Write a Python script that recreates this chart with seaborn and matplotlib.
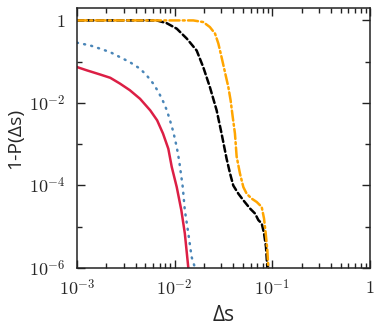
import numpy as np
import pandas as pd
import matplotlib
matplotlib.use("Agg")
import matplotlib.pyplot as plt
import matplotlib.ticker as mticker
import seaborn as sns

# ------------------------------------------------------------
# 데이터
# ------------------------------------------------------------
red_x = [1.00e-3, 1.26e-3, 1.72e-3, 2.19e-3, 2.75e-3, 3.47e-3, 4.42e-3, 5.62e-3,
         6.61e-3, 7.59e-3, 8.61e-3, 9.33e-3, 1.05e-2, 1.17e-2, 1.27e-2, 1.38e-2]
red_y = [7.41e-2, 6.17e-2, 4.90e-2, 4.07e-2, 2.95e-2, 2.04e-2, 1.26e-2, 6.61e-3,
         3.80e-3, 1.82e-3, 7.76e-4, 2.82e-4, 9.12e-5, 2.51e-5, 6.92e-6, 1.00e-6]

blue_x = [1.00e-3, 1.36e-3, 1.72e-3, 2.19e-3, 2.75e-3, 3.47e-3, 4.42e-3, 5.16e-3,
          6.03e-3, 6.84e-3, 7.67e-3, 8.32e-3, 8.95e-3, 9.68e-3, 1.05e-2, 1.11e-2,
          1.21e-2, 1.27e-2, 1.38e-2, 1.49e-2, 1.62e-2]
blue_y = [2.88e-1, 2.48e-1, 2.07e-1, 1.70e-1, 1.29e-1, 9.77e-2, 6.76e-2, 4.68e-2,
          2.95e-2, 1.82e-2, 1.05e-2, 6.61e-3, 3.80e-3, 2.00e-3, 8.51e-4, 4.07e-4,
          9.12e-5, 2.51e-5, 6.92e-6, 1.86e-6, 9.80e-7]

black_x = [1.00e-3, 6.53e-3, 8.26e-3, 1.05e-2, 1.33e-2, 1.68e-2, 1.96e-2, 2.29e-2,
           2.69e-2, 3.02e-2, 3.40e-2, 3.69e-2, 3.98e-2, 4.49e-2, 5.05e-2, 5.92e-2,
           6.65e-2, 7.19e-2, 7.78e-2, 8.22e-2, 8.61e-2, 8.89e-2]
black_y = [1.0, 1.0, 0.861, 0.631, 0.363, 0.186, 7.41e-2, 2.45e-2,
           6.61e-3, 1.82e-3, 4.47e-4, 1.95e-4, 1.00e-4, 6.31e-5, 4.37e-5, 2.75e-5,
           2.09e-5, 1.45e-5, 1.20e-5, 6.92e-6, 3.24e-6, 9.80e-7]

orange_x = [1.00e-3, 1.55e-2, 1.96e-2, 2.29e-2, 2.59e-2, 2.80e-2, 3.02e-2, 3.27e-2,
            3.54e-2, 3.74e-2, 3.93e-2, 4.14e-2, 4.31e-2, 4.66e-2, 5.05e-2, 5.46e-2,
            6.15e-2, 6.92e-2, 7.78e-2, 8.22e-2, 8.55e-2, 8.89e-2, 9.10e-2]
orange_y = [1.0, 1.0, 0.912, 0.692, 0.479, 0.275, 0.129, 5.62e-2,
            2.45e-2, 1.15e-2, 4.57e-3, 1.82e-3, 5.01e-4, 1.95e-4, 9.12e-5, 6.31e-5,
            4.79e-5, 3.98e-5, 3.02e-5, 1.58e-5, 6.92e-6, 2.69e-6, 9.80e-7]

x_ticks = [1e-3, 1e-2, 1e-1, 1]
x_ticklabels = ["$10^{-3}$", "$10^{-2}$", "$10^{-1}$", "$1$"]
y_ticks = [1e-6, 1e-4, 1e-2, 1]
y_ticklabels = ["$10^{-6}$", "$10^{-4}$", "$10^{-2}$", "$1$"]

# long-form 테이블
frames = []
for name, xs, ys in [("red", red_x, red_y), ("blue", blue_x, blue_y),
                     ("black", black_x, black_y), ("orange", orange_x, orange_y)]:
    frames.append(pd.DataFrame({"ds": xs, "p": ys, "series": name}))
df = pd.concat(frames, ignore_index=True)

# ------------------------------------------------------------
# 그리기
# ------------------------------------------------------------
sns.set_style("ticks")
plt.rcParams["font.family"] = ["Open Sans", "DejaVu Sans"]
plt.rcParams["mathtext.fontset"] = "cm"

fig = plt.figure(figsize=(3.82, 3.29), dpi=100)
ax = fig.add_axes([0.2016, 0.1854, 0.9686 - 0.2016, 0.9757 - 0.1854])

palette = {"red": "#dc1f45", "blue": "#4a86b8", "black": "black", "orange": "#ffa500"}
dashes = {"red": "", "blue": (0.4, 2.5), "black": (2.6, 1.4), "orange": (4.0, 1.3, 0.8, 1.3)}

sns.lineplot(data=df, x="ds", y="p", hue="series", style="series",
             palette=palette, dashes=dashes, linewidth=1.8, legend=False,
             sort=False, estimator=None, ax=ax)

for line in ax.lines:
    line.set_dash_capstyle("round")

ax.set_xscale("log")
ax.set_yscale("log")
ax.set_xlim(1e-3, 1)
ax.set_ylim(1e-6, 2.0)

ax.xaxis.set_major_locator(mticker.FixedLocator(x_ticks))
ax.xaxis.set_major_formatter(mticker.FixedFormatter(x_ticklabels))
ax.xaxis.set_minor_locator(mticker.LogLocator(base=10, subs=np.arange(2, 10), numticks=20))
ax.xaxis.set_minor_formatter(mticker.NullFormatter())

ax.yaxis.set_major_locator(mticker.FixedLocator(y_ticks))
ax.yaxis.set_major_formatter(mticker.FixedFormatter(y_ticklabels))
ax.yaxis.set_minor_locator(mticker.FixedLocator([1e-5, 1e-3, 1e-1]))
ax.yaxis.set_minor_formatter(mticker.NullFormatter())

ax.tick_params(which="both", direction="in", top=True, right=True, width=1.0, color="#222222")
ax.tick_params(which="major", length=6, labelsize=13, pad=8)
ax.tick_params(which="minor", length=3.5)
for sp in ax.spines.values():
    sp.set_linewidth(1.1)
    sp.set_color("#222222")

ax.set_xlabel("Δs", fontsize=15, labelpad=4)
ax.set_ylabel("1-P(Δs)", fontsize=14, labelpad=4)

fig.savefig("out.png", dpi=100)
